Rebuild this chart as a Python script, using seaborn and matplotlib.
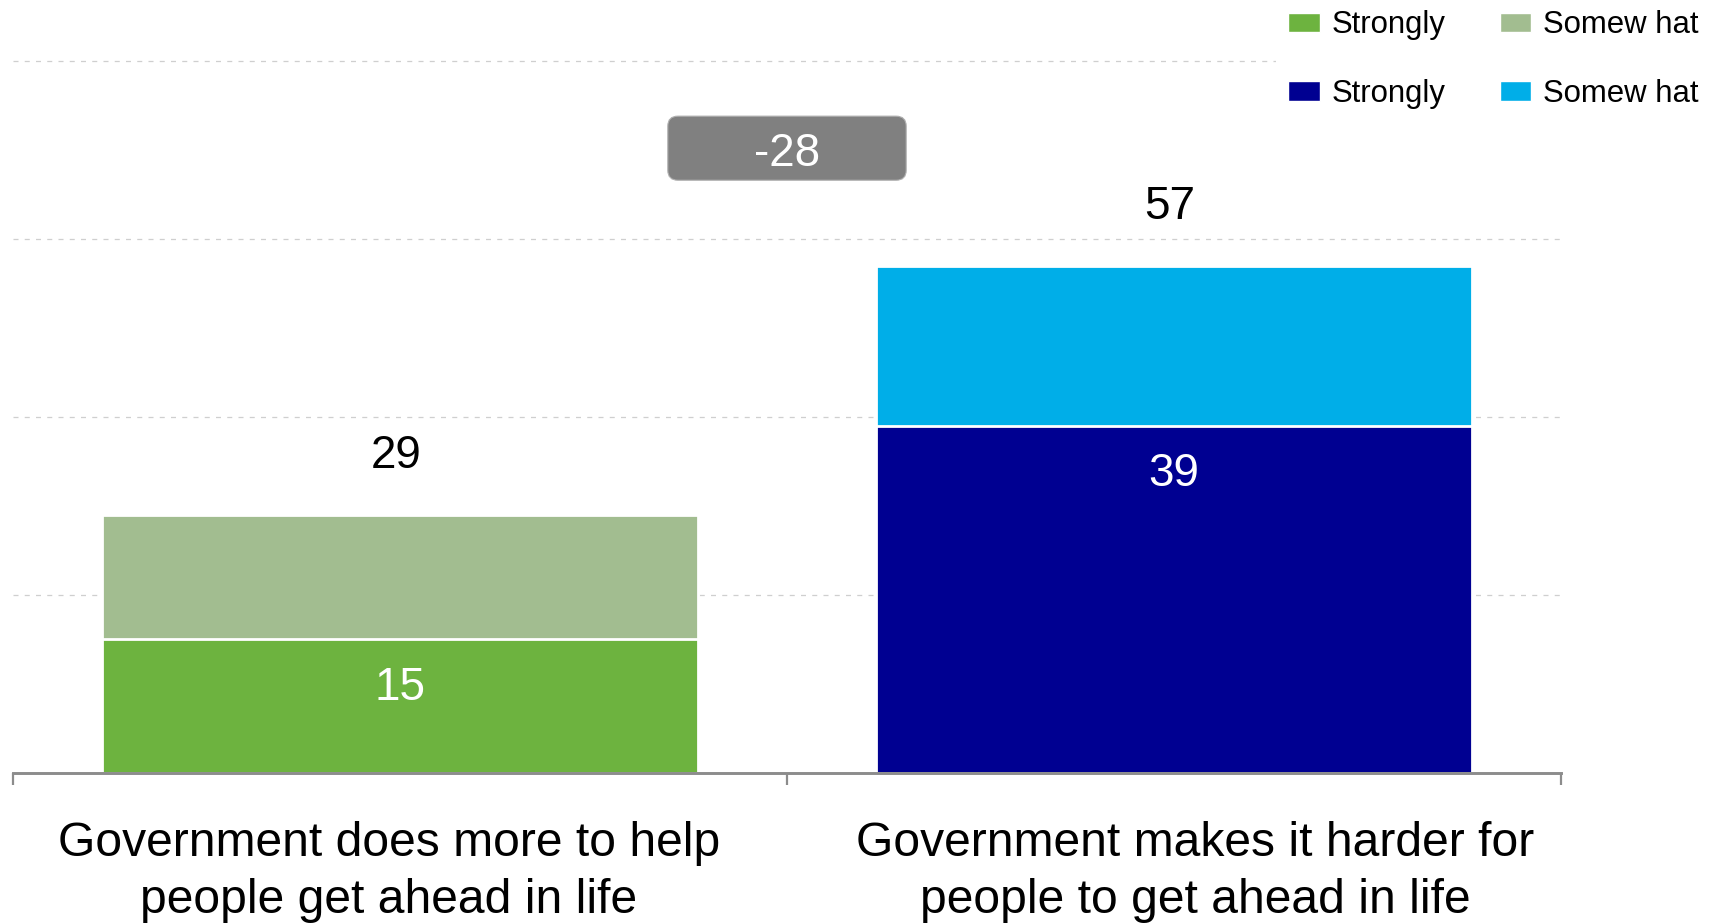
import matplotlib
matplotlib.use('Agg')
import matplotlib.pyplot as plt
from matplotlib.patches import FancyBboxPatch, Patch
import numpy as np
import pandas as pd
import seaborn as sns

sns.set_style('white')
plt.rcParams['font.family'] = ['Liberation Sans', 'DejaVu Sans']

# data
categories = ['Government does more to help\npeople get ahead in life',
              'Government makes it harder for\npeople to get ahead in life']
strongly = [15, 39]
somewhat = [14, 18]
totals = [a + b for a, b in zip(strongly, somewhat)]
diff_label = '-28'

# colours
strong_cols = ['#6DB33F', '#000091']
some_cols = ['#A2BD90', '#00AEE8']

df = pd.DataFrame({'cat': categories, 'strongly': strongly,
                   'total': totals})

fig = plt.figure(figsize=(17.16, 9.24), dpi=100)
ax = fig.add_axes([13/1716, 151/924, 1548/1716, 773/924])

# stacked bars: full total first, strongly part drawn on top
sns.barplot(data=df, x='cat', y='total', hue='cat', palette=some_cols,
            width=0.77, edgecolor='white', linewidth=2, saturation=1,
            legend=False, ax=ax)
sns.barplot(data=df, x='cat', y='strongly', hue='cat', palette=strong_cols,
            width=0.77, edgecolor='white', linewidth=2, saturation=1,
            legend=False, ax=ax)

ax.set_xlim(-0.5, 1.5)
ax.set_ylim(0, 86.85)
ax.set_xlabel('')
ax.set_ylabel('')

# grid
ax.set_yticks([20, 40, 60, 80])
ax.set_yticklabels([])
ax.tick_params(axis='y', length=0)
ax.yaxis.grid(True, color='#CFCFCF', linewidth=0.9, linestyle=(0, (4, 5)))
ax.set_axisbelow(True)

# spines and ticks
for s in ['left', 'right', 'top']:
    ax.spines[s].set_visible(False)
ax.spines['bottom'].set_color('#8C8C8C')
ax.spines['bottom'].set_linewidth(2.1)
ax.set_xticks([-0.5, 0.5, 1.5], minor=True)
ax.tick_params(axis='x', which='minor', bottom=True, length=8.5, width=1.6,
               color='#8C8C8C', direction='out')
ax.tick_params(axis='x', which='major', length=0)
ax.set_xticklabels([])

# category labels (slightly off-centre as in the original)
label_dx = [-8, 15]
for i, cat in enumerate(categories):
    ax.annotate(cat, xy=(i, 0), xycoords=ax.get_xaxis_transform(),
                xytext=(label_dx[i], -34.2), textcoords='offset points',
                ha='center', va='top', fontsize=34.6, linespacing=1.36,
                color='black', annotation_clip=False)

# value labels
for i in range(len(categories)):
    ax.text(i - 0.005, totals[i] + 6.6, str(totals[i]), ha='center',
            va='center', fontsize=33, color='black')
    ax.text(i, strongly[i] - 5.4, str(strongly[i]), ha='center', va='center',
            fontsize=33, color='white')

# difference box between bars
bx, by = 0.5, max(totals) + 13.2
bw, bh = 0.308, 7.2
box = FancyBboxPatch((bx - bw/2, by - bh/2), bw, bh,
                     boxstyle='round,pad=0,rounding_size=0.013',
                     mutation_aspect=86, facecolor='#808080',
                     edgecolor='#B0B0B0', linewidth=0.8, zorder=4)
ax.add_patch(box)
ax.text(bx, by - 0.6, diff_label, ha='center', va='center', fontsize=33,
        color='white', zorder=5)

# legend
handles = [Patch(facecolor=strong_cols[0]), Patch(facecolor=strong_cols[1]),
           Patch(facecolor=some_cols[0]), Patch(facecolor=some_cols[1])]
labels = ['Strongly', 'Strongly', 'Somew hat', 'Somew hat']
leg = fig.legend(handles, labels, ncol=2, loc='upper right',
                 bbox_to_anchor=(1.006, 1.019), fontsize=22.4,
                 frameon=True, facecolor='white', edgecolor='none',
                 framealpha=1, fancybox=False, borderpad=0.4,
                 handlelength=1.0, handleheight=0.6, handletextpad=0.38,
                 columnspacing=1.75, labelspacing=1.25)
for t in leg.get_texts():
    t.set_color('black')

fig.savefig('out.png', dpi=100)
